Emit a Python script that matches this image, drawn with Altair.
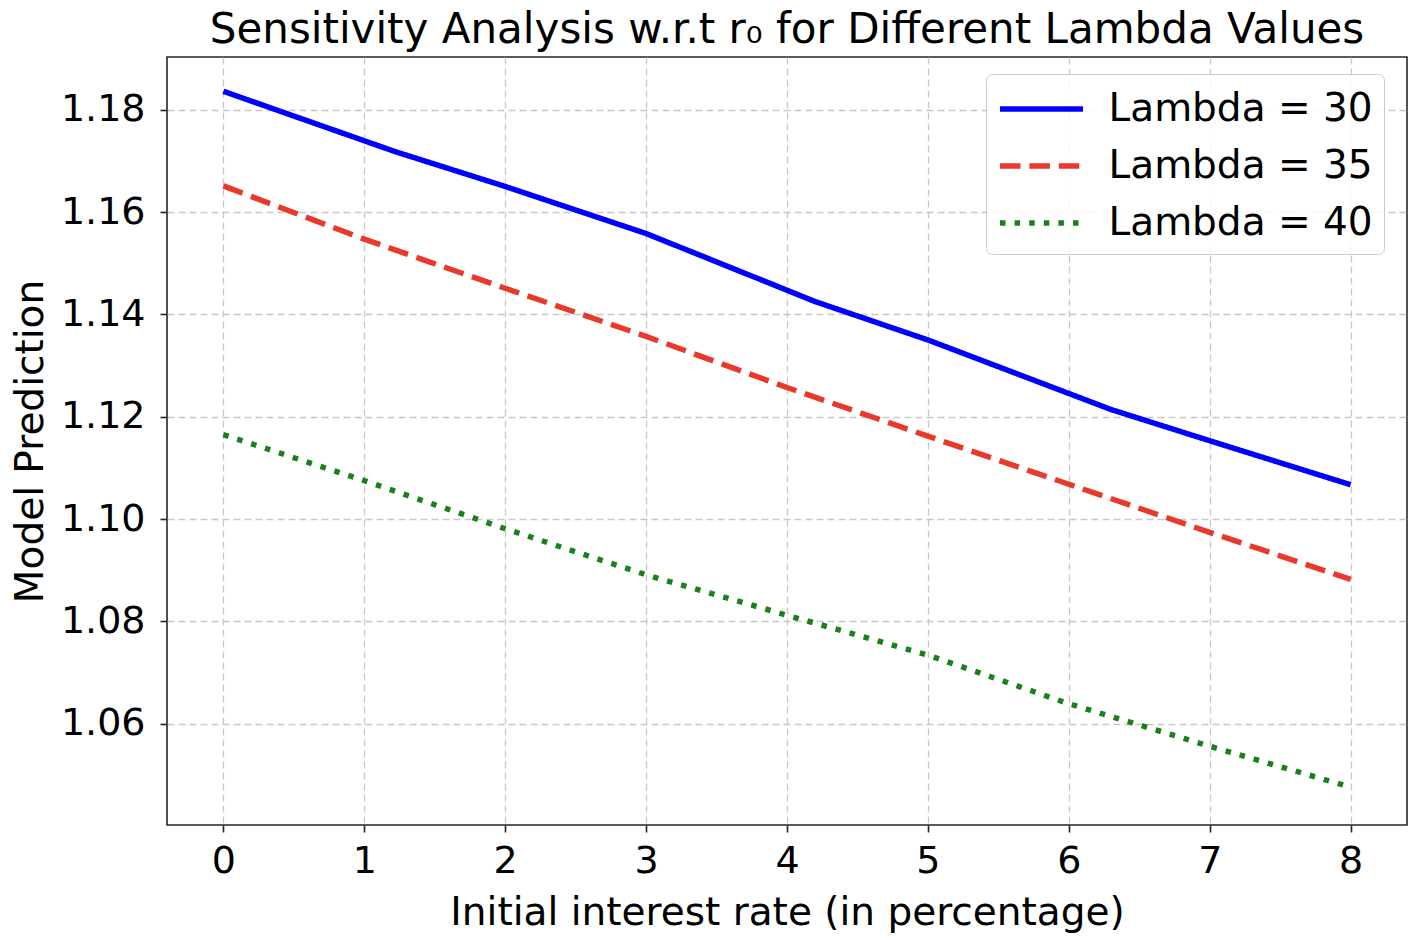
import altair as alt
import pandas as pd

# ---- data ----
series_labels = ["Lambda = 30", "Lambda = 35", "Lambda = 40"]

x_l30 = [0, 1.22, 2, 3, 4.2, 5, 6.3, 7, 8]
y_l30 = [1.1836, 1.1718, 1.1650, 1.1558, 1.1425, 1.1350, 1.1214, 1.1153, 1.1067]

x_l35 = [0, 1, 2, 3, 4, 5, 6, 7, 8]
y_l35 = [1.1651, 1.1547, 1.1451, 1.1357, 1.1257, 1.1162, 1.1068, 1.0974, 1.0882]

x_l40 = [0, 1, 2, 3, 4, 5, 6, 7, 8]
y_l40 = [1.1165, 1.1075, 1.0981, 1.0891, 1.0812, 1.0734, 1.0639, 1.0556, 1.0476]

x_ticks = [0, 1, 2, 3, 4, 5, 6, 7, 8]
y_ticks = [1.06, 1.08, 1.10, 1.12, 1.14, 1.16, 1.18]

colors = ["#0000ff", "#e8392a", "#1a801a"]
dashes = [[1, 0], [20.5, 8.9], [5.5, 9.1]]

rows = []
for lab, xs, ys in zip(series_labels, [x_l30, x_l35, x_l40], [y_l30, y_l35, y_l40]):
    for i, (xv, yv) in enumerate(zip(xs, ys)):
        rows.append({"series": lab, "x": xv, "y": yv, "order": i})
df = pd.DataFrame(rows)

FONT = "DejaVu Sans"

legend = alt.Legend(
    title=None,
    orient="none",
    legendX=819,
    legendY=17,
    symbolType="M-1.976,0H1.976",
    symbolSize=1764,
    symbolOffset=20.5,
    symbolStrokeWidth=5.5,
    labelFontSize=39,
    labelFont=FONT,
    labelColor="black",
    labelOffset=43,
    rowPadding=13,
    padding=11,
    strokeColor="#cccccc",
    fillColor="rgba(255,255,255,0.85)",
    cornerRadius=6,
    labelLimit=400,
)

chart = (
    alt.Chart(df)
    .mark_line(strokeWidth=5.5, strokeCap="butt")
    .encode(
        x=alt.X(
            "x:Q",
            scale=alt.Scale(domain=[-0.4, 8.4], nice=False, zero=False),
            axis=alt.Axis(values=x_ticks, format="d", title="Initial interest rate (in percentage)",
                          labelPadding=10, titlePadding=13),
        ),
        y=alt.Y(
            "y:Q",
            scale=alt.Scale(domain=[1.0402, 1.1903], nice=False, zero=False),
            axis=alt.Axis(values=y_ticks, format=".2f", title="Model Prediction",
                          labelPadding=15, titlePadding=10),
        ),
        color=alt.Color("series:N", scale=alt.Scale(domain=series_labels, range=colors), legend=legend),
        strokeDash=alt.StrokeDash("series:N", scale=alt.Scale(domain=series_labels, range=dashes), legend=legend),
        order="order:Q",
    )
    .properties(
        width=1240,
        height=768,
        autosize=alt.AutoSizeParams(type="none"),
        padding={"left": 159, "top": 49, "right": 3, "bottom": 115},
        title=alt.TitleParams(
            text="Sensitivity Analysis w.r.t r₀ for Different Lambda Values",
            fontSize=42,
            font=FONT,
            fontWeight="normal",
            color="black",
            anchor="middle",
            offset=5,
        ),
    )
    .configure_view(stroke="#262626", strokeWidth=1.6)
    .configure_axis(
        labelFont=FONT,
        titleFont=FONT,
        labelFontSize=38,
        titleFontSize=39,
        titleFontWeight="normal",
        labelColor="black",
        titleColor="black",
        domain=False,
        tickColor="#262626",
        tickSize=7,
        tickWidth=1.6,
        grid=True,
        gridColor="#c8c8c8",
        gridDash=[7, 4],
        gridWidth=1.3,
    )
)

chart.save("out.html", embed_options={"renderer": "svg", "actions": False})
